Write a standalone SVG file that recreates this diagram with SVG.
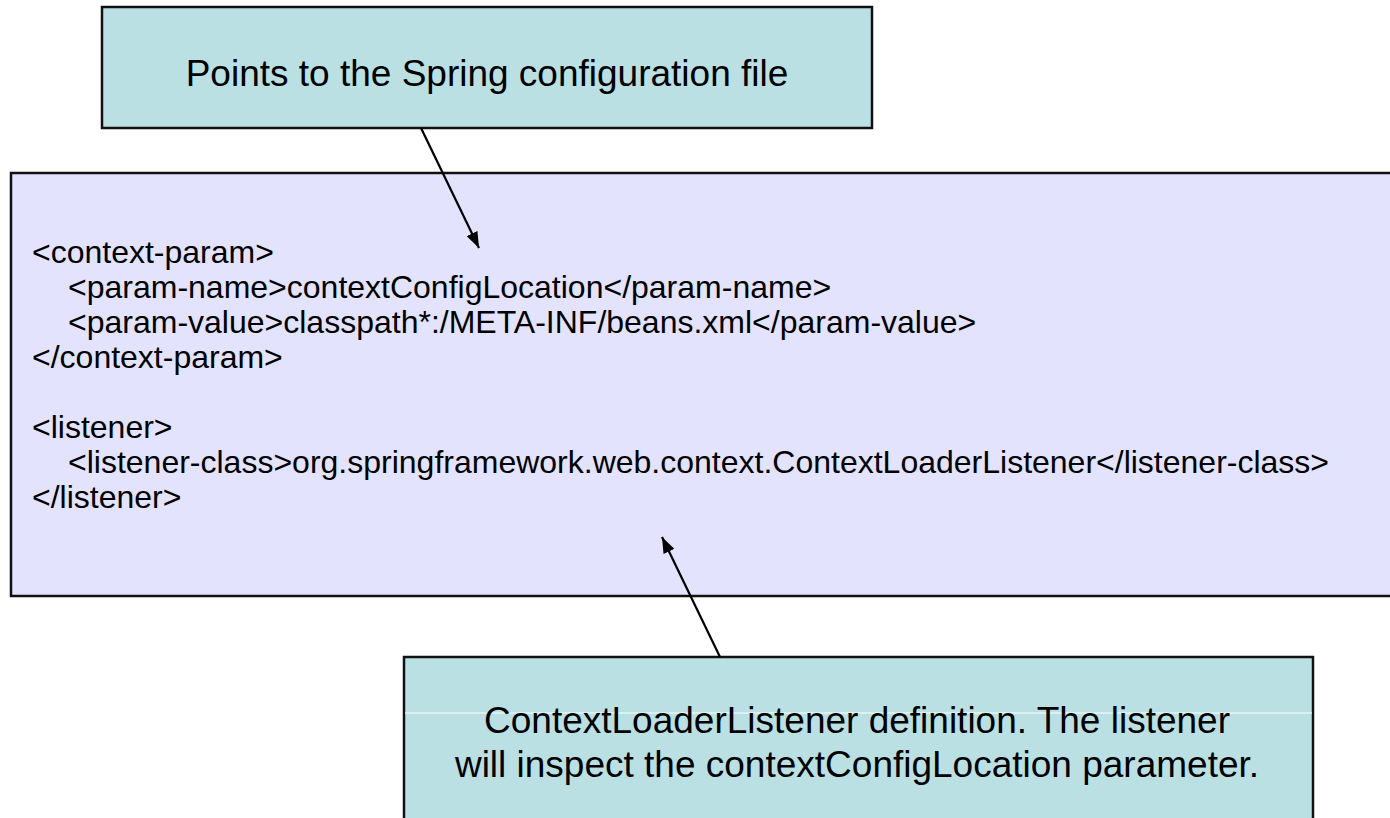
<svg xmlns="http://www.w3.org/2000/svg" width="1390" height="818" viewBox="0 0 1390 818">
  <style>
    .note { fill: #bbe0e3; stroke: #111; stroke-width: 2.5; }
    .code-box { fill: #e3e3fd; stroke: #111; stroke-width: 2.5; }
    .note-text { font-family: "Liberation Sans", Arial, sans-serif; font-size: 37px; fill: #000; text-anchor: middle; }
    .code { font-family: "Liberation Sans", Arial, sans-serif; font-size: 32px; fill: #000; }
    .conn { stroke: #000; stroke-width: 2.2; fill: none; marker-end: url(#head); }
  </style>
  <defs>
    <marker id="head" viewBox="0 0 16 12" refX="16" refY="6" markerWidth="16" markerHeight="12" markerUnits="userSpaceOnUse" orient="auto">
      <path d="M0,0 L16,6 L0,12 z" fill="#000"/>
    </marker>
  </defs>
  <rect width="1390" height="818" fill="#fff"/>

  <!-- web.xml snippet -->
  <g id="web-xml">
    <rect class="code-box" x="11" y="173" width="1400" height="423"/>
    <text class="code" xml:space="preserve">
      <tspan x="32" y="263">&lt;context-param&gt;</tspan>
      <tspan x="68" y="298">&lt;param-name&gt;contextConfigLocation&lt;/param-name&gt;</tspan>
      <tspan x="68" y="333">&lt;param-value&gt;classpath*:/META-INF/beans.xml&lt;/param-value&gt;</tspan>
      <tspan x="32" y="368">&lt;/context-param&gt;</tspan>
      <tspan x="32" y="438">&lt;listener&gt;</tspan>
      <tspan x="68" y="473">&lt;listener-class&gt;org.springframework.web.context.ContextLoaderListener&lt;/listener-class&gt;</tspan>
      <tspan x="32" y="508">&lt;/listener&gt;</tspan>
    </text>
  </g>

  <!-- callout: config location -->
  <g id="note-config">
    <rect class="note" x="102" y="7" width="770" height="121"/>
    <text class="note-text" x="487" y="86">Points to the Spring configuration file</text>
  </g>

  <!-- callout: listener -->
  <g id="note-listener">
    <rect class="note" x="404" y="657" width="909" height="200"/>
    <line x1="405" y1="713" x2="1312" y2="713" stroke="#fff" stroke-width="1"/>
    <text class="note-text" x="857" y="733">ContextLoaderListener definition. The listener</text>
    <text class="note-text" x="857" y="777">will inspect the contextConfigLocation parameter.</text>
  </g>

  <g id="connectors">
    <line class="conn" x1="421" y1="128" x2="479" y2="248"/>
    <line class="conn" x1="720" y1="657" x2="662" y2="537"/>
  </g>
</svg>
